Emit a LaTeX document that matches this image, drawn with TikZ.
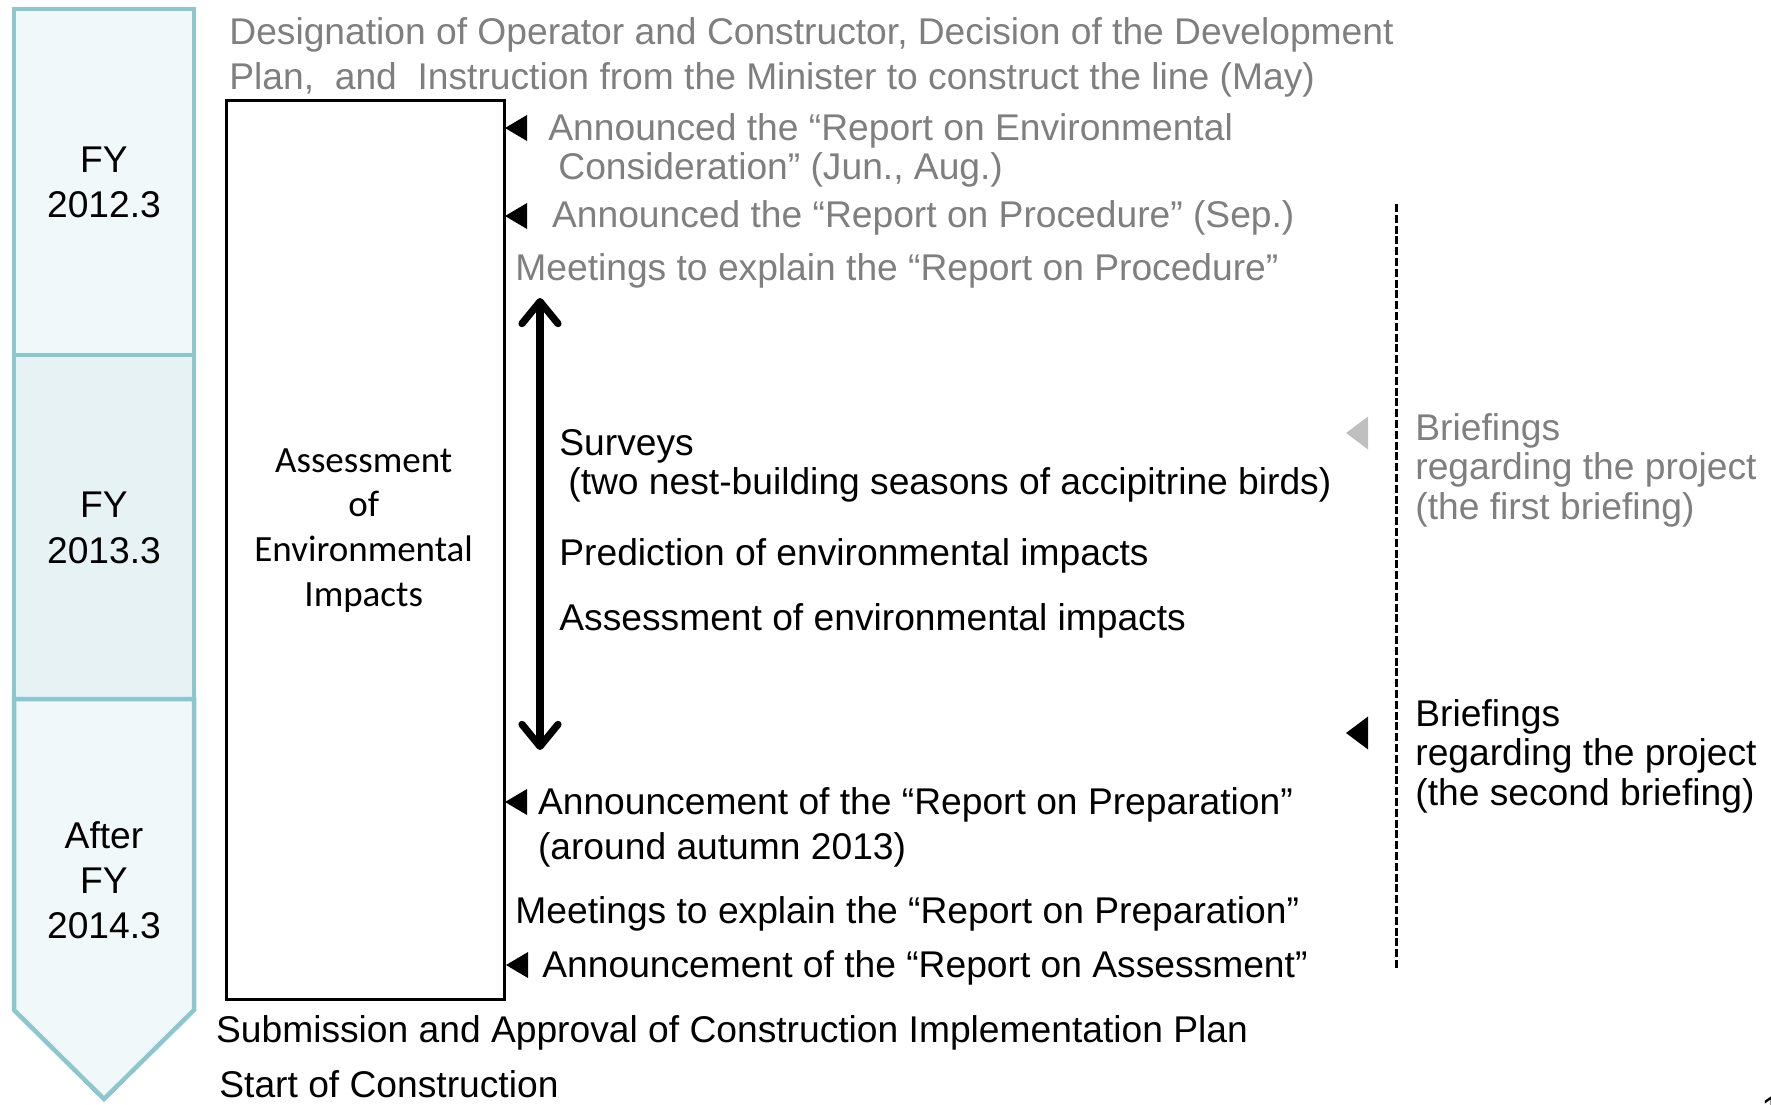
\documentclass[tikz,border=0pt]{standalone}
\usepackage{fontspec}
\setmainfont{Liberation Sans}
\newfontfamily\boxfont{Carlito}
\usetikzlibrary{arrows.meta}

\definecolor{colborder}{HTML}{8CC7CF}
\definecolor{colfill}{HTML}{F1F8FA}
\definecolor{colfillmid}{HTML}{E7F2F5}
\definecolor{softgray}{HTML}{7F7F7F}
\definecolor{palegray}{HTML}{BFBFBF}

\begin{document}
\begin{tikzpicture}[x=0.5pt,y=-0.5pt,
  txt/.style={anchor=base west, inner sep=0pt, font=\fontsize{18.6}{20}\selectfont},
  dim/.style={txt, text=softgray},
  yearlbl/.style={anchor=base, inner sep=0pt, font=\fontsize{18.6}{20}\selectfont},
  boxlbl/.style={anchor=base, inner sep=0pt, font=\boxfont\fontsize{18.5}{20}\selectfont},
  period/.style={draw=colborder, line width=2.25pt, line join=miter},
  pics/lefttri/.style={code={\fill[#1] (0,0) -- (22,-13) -- (22,13) -- cycle;}},
  pics/lefttri/.default=black,
  pics/bigtri/.style={code={\fill[#1] (0,0) -- (22,-16.5) -- (22,16.5) -- cycle;}},
  pics/bigtri/.default=black,
  barb/.tip={Straight Barb[length=11pt,width=18pt,round]},
]
\useasboundingbox (0,0) rectangle (1771,1104);

% fiscal-year column
\filldraw[period, fill=colfill] (14,9) rectangle (194,355);
\filldraw[period, fill=colfillmid] (14,355) rectangle (194,699);
\filldraw[period, fill=colfill] (14,699) -- (194,699) -- (194,1010) -- (104,1099) -- (14,1010) -- cycle;

\node[yearlbl] (fy1a) at (104,172.5) {FY};
\node[yearlbl] (fy1b) at (104,217.5) {2012.3};
\node[yearlbl] (fy2a) at (104,517.5) {FY};
\node[yearlbl] (fy2b) at (104,563) {2013.3};
\node[yearlbl] (fy3a) at (104,848.5) {After};
\node[yearlbl] (fy3b) at (104,893.5) {FY};
\node[yearlbl] (fy3c) at (104,938.5) {2014.3};

% heading above the assessment box
\node[dim] (plan1) at (229,44) {Designation of Operator and Constructor, Decision of the Development};
\node[dim] (plan2) at (229,89) {Plan,\ \ and\ \ Instruction from the Minister to construct the line (May)};

% assessment box
\node[draw, line width=1.5pt, inner sep=0pt, anchor=north west,
      minimum width=138.9pt, minimum height=449.5pt] (eia) at (224.8,99.4) {};
\node[boxlbl] (eia1) at (363.7,472) {Assessment};
\node[boxlbl] (eia2) at (363.7,516) {of};
\node[boxlbl] (eia3) at (363.7,561) {Environmental};
\node[boxlbl] (eia4) at (363.7,606) {Impacts};

% procedure steps along the box
\pic (m1) at (505,128) {lefttri};
\node[dim] (rec1) at (548,140) {Announced the “Report on Environmental};
\node[dim] (rec2) at (558,179.5) {Consideration” (Jun., Aug.)};
\pic (m2) at (505,216) {lefttri};
\node[dim] (proc1) at (551.7,227) {Announced the “Report on Procedure” (Sep.)};
\node[dim] (meet1) at (515,280.5) {Meetings to explain the “Report on Procedure”};

% survey period
\coordinate (svtop) at (540,298);
\coordinate (svbot) at (540,750);
\draw[line width=3.6pt, barb-barb] (svtop) -- (svbot);

\node[txt] (sv1) at (559,455) {Surveys};
\node[txt] (sv2) at (568,494) {(two nest-building seasons of accipitrine birds)};
\node[txt] (pred) at (559,565.5) {Prediction of environmental impacts};
\node[txt] (asmt) at (559,630) {Assessment of environmental impacts};

\pic (m3) at (505,802) {lefttri};
\node[txt] (prep1) at (537.6,814) {Announcement of the “Report on Preparation”};
\node[txt] (prep2) at (537.6,859) {(around autumn 2013)};
\node[txt] (meet2) at (515,923.5) {Meetings to explain the “Report on Preparation”};
\pic (m4) at (506,965) {lefttri};
\node[txt] (rpt) at (542,977.5) {Announcement of the “Report on Assessment”};

% after the assessment
\node[txt] (sub) at (215.7,1042) {Submission and Approval of Construction Implementation Plan};
\node[txt] (start) at (219,1097.5) {Start of Construction};

% briefings
\coordinate (dtop) at (1396,204);
\coordinate (dbot) at (1396,969);
\draw[line width=1.5pt, dash pattern=on 4pt off 1.4pt] (dtop) -- (dbot);

\pic (b1) at (1346,433) {bigtri=palegray};
\node[dim] (bf1a) at (1415,440) {Briefings};
\node[dim] (bf1b) at (1415,479.6) {regarding the project};
\node[dim] (bf1c) at (1415,519) {(the first briefing)};

\pic (b2) at (1346,733) {bigtri};
\node[txt] (bf2a) at (1415,726) {Briefings};
\node[txt] (bf2b) at (1415,765.5) {regarding the project};
\node[txt] (bf2c) at (1415,805) {(the second briefing)};

% slide number at the page corner
\node[txt] (pageno) at (1761,1122) {1};
\end{tikzpicture}
\end{document}
